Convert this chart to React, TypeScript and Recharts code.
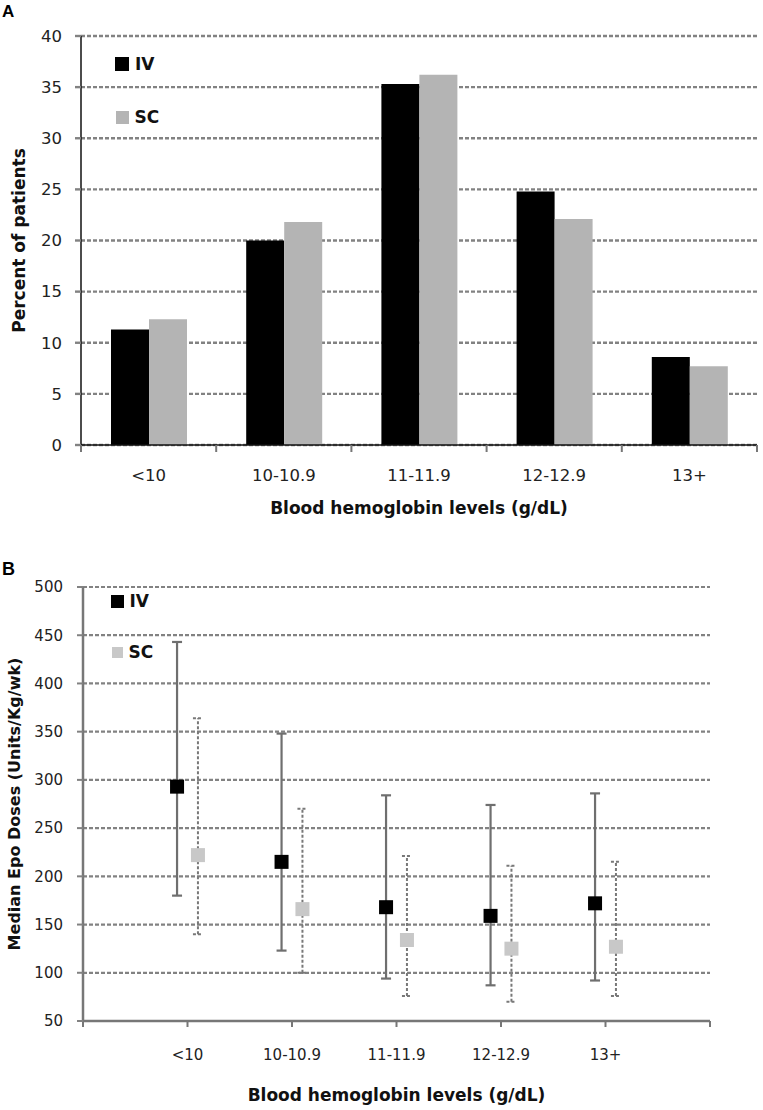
import React from 'react';
import { BarChart, Bar, XAxis, YAxis, CartesianGrid, Legend, ScatterChart, Scatter, ErrorBar } from 'recharts';

const categories = ['<10', '10-10.9', '11-11.9', '12-12.9', '13+'];

// A: percent of patients per hemoglobin level
const ivPercent = [11.3, 20.0, 35.3, 24.8, 8.6];
const scPercent = [12.3, 21.8, 36.2, 22.1, 7.7];
const percentTicks = [0, 5, 10, 15, 20, 25, 30, 35, 40];

// B: median epo dose with low / high whiskers
const ivMedian = [293, 215, 168, 159, 172];
const ivLow = [180, 123, 94, 87, 92];
const ivHigh = [443, 348, 284, 274, 286];
const scMedian = [222, 166, 134, 125, 127];
const scLow = [140, 100, 76, 70, 76];
const scHigh = [364, 270, 221, 211, 215];
const doseTicks = [50, 100, 150, 200, 250, 300, 350, 400, 450, 500];
const catTicks = [0, 1, 2, 3, 4, 5, 6];

const FONT = '"DejaVu Sans", sans-serif';
const GRID = '#828282';

const barData = categories.map((c, i) => ({ name: c, iv: ivPercent[i], sc: scPercent[i] }));

const SHIFT = 0.1; // IV left of tick, SC right of tick
const ivPoints = categories.map((c, i) => ({
  x: i + 1 - SHIFT,
  y: ivMedian[i],
  err: [ivMedian[i] - ivLow[i], ivHigh[i] - ivMedian[i]],
}));
const scPoints = categories.map((c, i) => ({
  x: i + 1 + SHIFT,
  y: scMedian[i],
  err: [scMedian[i] - scLow[i], scHigh[i] - scMedian[i]],
}));

// panel A plot box
const A_LEFT = 81;
const A_RIGHT = 6;
const A_BAND = (763 - A_LEFT - A_RIGHT) / categories.length;
const A_TICK_MARGIN = 24;

const BandTick = (props: any) => {
  const { x, y, payload, index } = props;
  const axisY = y - A_TICK_MARGIN;
  const left = x - A_BAND / 2;
  return (
    <g>
      <line x1={left} y1={axisY} x2={left} y2={axisY + 7} stroke="#777" strokeWidth={2} />
      {index === categories.length - 1 && (
        <line x1={x + A_BAND / 2} y1={axisY} x2={x + A_BAND / 2} y2={axisY + 7} stroke="#777" strokeWidth={2} />
      )}
      <text x={x} y={y} dy="0.71em" textAnchor="middle" fill="#222" fontSize={16.5} fontFamily={FONT}>
        {payload.value}
      </text>
    </g>
  );
};

const legendContent = (gap: number, sizes: number[]) => (props: any) => {
  const { payload } = props;
  return (
    <div>
      {payload.map((e: any, i: number) => (
        <div key={e.value} style={{ display: 'flex', alignItems: 'center', height: 18, marginBottom: i === 0 ? gap : 0 }}>
          <div style={{ width: sizes[i], height: sizes[i], background: e.color, marginRight: 6, marginLeft: (14 - sizes[i]) / 2 }} />
          <span style={{ fontFamily: FONT, fontWeight: 'bold', fontSize: 17, color: '#111' }}>{e.value}</span>
        </div>
      ))}
    </div>
  );
};

const Square = (props: any) => {
  const { cx, cy, fill } = props;
  return <rect x={cx - 7} y={cy - 7} width={14} height={14} fill={fill} />;
};

export default function App() {
  return (
    <div style={{ position: 'absolute', left: 0, top: 0, width: 763, height: 1110, background: '#fff' }}>
      <div style={{ position: 'absolute', left: 2, top: 2, font: 'bold 17px "Liberation Sans", Arial, sans-serif' }}>A</div>
      <div style={{ position: 'absolute', left: 0, top: 0 }}>
        <BarChart width={763} height={530} data={barData} margin={{ top: 36, right: A_RIGHT, left: 0, bottom: 0 }} barGap={0}>
          <CartesianGrid vertical={false} stroke={GRID} strokeDasharray="4 2" strokeWidth={2.4} />
          <XAxis
            dataKey="name"
            height={85}
            stroke="#111"
            strokeWidth={1.5}
            tickLine={false}
            tickSize={0}
            tickMargin={A_TICK_MARGIN}
            interval={0}
            tick={<BandTick />}
            label={{ value: 'Blood hemoglobin levels (g/dL)', position: 'insideBottom', offset: 16, fill: '#111', fontSize: 17, fontWeight: 'bold', fontFamily: FONT }}
          />
          <YAxis
            width={A_LEFT}
            domain={[0, 40]}
            ticks={percentTicks}
            interval={0}
            stroke="#111"
            strokeWidth={1.5}
            tickSize={6}
            tickMargin={13}
            tickLine={{ stroke: GRID, strokeWidth: 2.4 }}
            tick={{ fill: '#222', fontSize: 16.5, fontFamily: FONT }}
            label={{ value: 'Percent of patients', angle: -90, position: 'insideLeft', offset: 19, fill: '#111', fontSize: 17, fontWeight: 'bold', fontFamily: FONT, style: { textAnchor: 'middle' } }}
          />
          <Legend
            layout="vertical"
            align="center"
            verticalAlign="middle"
            wrapperStyle={{ left: 115, top: 55, width: 'auto' }}
            content={legendContent(35, [14, 13])}
          />
          <Bar dataKey="iv" name="IV" fill="#000" barSize={38} isAnimationActive={false} />
          <Bar dataKey="sc" name="SC" fill="#b4b4b4" barSize={38} isAnimationActive={false} />
        </BarChart>
      </div>

      <div style={{ position: 'absolute', left: 2, top: 559, font: 'bold 18px "Liberation Sans", Arial, sans-serif' }}>B</div>
      <div style={{ position: 'absolute', left: 0, top: 540 }}>
        <ScatterChart width={763} height={570} margin={{ top: 47, right: 53, left: 0, bottom: 0 }}>
          <CartesianGrid vertical={false} stroke={GRID} strokeDasharray="4 2" strokeWidth={2.2} />
          <XAxis
            type="number"
            dataKey="x"
            domain={[0, 6]}
            ticks={catTicks}
            interval={0}
            height={89}
            stroke="#777"
            strokeWidth={2.5}
            tickSize={6}
            tickMargin={22}
            tickLine={{ stroke: '#777', strokeWidth: 2 }}
            tickFormatter={(v: number) => categories[v - 1] ?? ''}
            tick={{ fill: '#222', fontSize: 15, fontFamily: FONT }}
            label={{ value: 'Blood hemoglobin levels (g/dL)', position: 'insideBottom', offset: 9, fill: '#111', fontSize: 17, fontWeight: 'bold', fontFamily: FONT }}
          />
          <YAxis
            type="number"
            dataKey="y"
            width={83}
            domain={[50, 500]}
            ticks={doseTicks}
            interval={0}
            stroke="#777"
            strokeWidth={2.5}
            tickSize={6}
            tickMargin={14}
            tickLine={{ stroke: GRID, strokeWidth: 2 }}
            tick={{ fill: '#222', fontSize: 15, fontFamily: FONT }}
            label={{ value: 'Median Epo Doses (Units/Kg/wk)', angle: -90, position: 'insideLeft', offset: 14, fill: '#111', fontSize: 16, fontWeight: 'bold', fontFamily: FONT, style: { textAnchor: 'middle' } }}
          />
          <Legend
            layout="vertical"
            align="center"
            verticalAlign="middle"
            wrapperStyle={{ left: 110, top: 52, width: 'auto' }}
            content={legendContent(33, [13, 11])}
          />
          <Scatter name="IV" data={ivPoints} fill="#000" shape={<Square />} isAnimationActive={false}>
            <ErrorBar dataKey="err" direction="y" width={5} stroke="#6f6f6f" strokeWidth={2.2} />
          </Scatter>
          <Scatter name="SC" data={scPoints} fill="#c8c8c8" shape={<Square />} isAnimationActive={false}>
            <ErrorBar dataKey="err" direction="y" width={5} stroke="#787878" strokeWidth={2} strokeDasharray="3 2" />
          </Scatter>
        </ScatterChart>
      </div>
    </div>
  );
}
